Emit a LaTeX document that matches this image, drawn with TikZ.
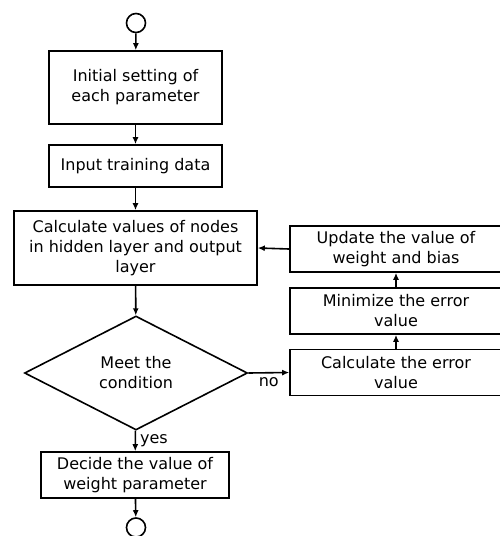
\documentclass[tikz,border=0pt]{standalone}
\usepackage{fontspec}
\setmainfont{DejaVu Sans}
\usepackage{tikz}
\usetikzlibrary{arrows.meta,shapes.geometric}

\begin{document}
\begin{tikzpicture}[
		x=1pt, y=-1pt,
		font=\fontsize{16}{20}\selectfont,
		line width=1.6pt,
		>={Latex[length=7pt,width=6pt]},
		proc/.style={draw, rectangle, align=center, inner sep=0pt},
		cond/.style={draw, diamond, aspect=1.96, align=center, inner sep=0pt,
			minimum width=223pt, minimum height=114pt},
		term/.style={draw, circle, inner sep=0pt, minimum size=19pt}
	]
		\useasboundingbox (0,0) rectangle (499,536);
		% main column
		\node [term] (start) at (136,23) {};
		\node [proc, minimum width=173pt, minimum height=73pt] (init) at (135.5,87.5)
			{Initial setting of\\each parameter};
		\node [proc, minimum width=173pt, minimum height=42pt] (input) at (135.5,166)
			{Input training data};
		\node [proc, minimum width=243pt, minimum height=74pt] (calc) at (135.5,248)
			{Calculate values of nodes\\in hidden layer and output\\layer};
		\node [cond] (meet) at (136,373)
			{Meet the\\condition};
		\node [proc, minimum width=188pt, minimum height=46pt] (decide) at (135,475)
			{Decide the value of\\weight parameter};
		\node [term] (stop) at (136,527.5) {};
		% error loop
		\node [proc, minimum width=212pt, minimum height=46pt] (error) at (396,372.5)
			{Calculate the error\\value};
		\node [proc, minimum width=212pt, minimum height=46pt] (minim) at (396,311)
			{Minimize the error\\value};
		\node [proc, minimum width=212pt, minimum height=46pt] (update) at (396,249)
			{Update the value of\\weight and bias};
		\draw [->] (start) to (init);
		\draw [->] (init) to (input);
		\draw [->] (input) to (calc);
		\draw [->] (calc) to (meet);
		\draw [->] (meet) to
			node
				[right, inner sep=4pt]
				{yes}
			(decide);
		\draw [->] (decide) to (stop);
		\draw [->] (meet.east) to
			node
				[below, inner sep=4pt]
				{no}
			(error.west);
		\draw [->] (error) to (minim);
		\draw [->] (minim) to (update);
		\draw [->] (update.west) to (calc.east);
	\end{tikzpicture}
\end{document}
